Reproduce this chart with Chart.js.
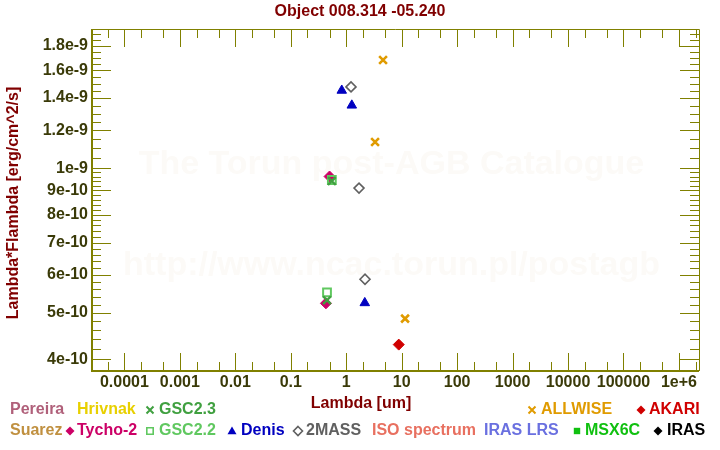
<!DOCTYPE html>
<html><head><meta charset="utf-8">
<script src="https://cdn.jsdelivr.net/npm/chart.js@4.4.1/dist/chart.umd.min.js"></script>
<style>html,body{margin:0;padding:0;background:#fff;}#wrap{width:720px;height:450px;position:relative;}</style>
</head><body><div id="wrap"><canvas id="c" width="720" height="450"></canvas></div>
<script>
// ---- text ----
const chartTitle = 'Object 008.314 -05.240';
const xTitle = 'Lambda [um]';
const yTitle = 'Lambda*Flambda [erg/cm^2/s]';
const watermarkLines = ['The Torun post-AGB Catalogue', 'http://www.ncac.torun.pl/postagb'];

// ---- axes ----
const xRange = [2.6e-5, 2.3e6];
const yRange = [3.78e-10, 1.95e-9];
const xTickValues = [1e-4, 1e-3, 1e-2, 1e-1, 1, 10, 100, 1000, 1e4, 1e5, 1e6];
const xTickLabels = ['0.0001', '0.001', '0.01', '0.1', '1', '10', '100', '1000', '10000', '100000', '1e+6'];
const xMinorMultipliers = [2, 5];
const yTickValues = [4e-10, 5e-10, 6e-10, 7e-10, 8e-10, 9e-10, 1e-9, 1.2e-9, 1.4e-9, 1.6e-9, 1.8e-9];
const yTickLabels = ['4e-10', '5e-10', '6e-10', '7e-10', '8e-10', '9e-10', '1e-9', '1.2e-9', '1.4e-9', '1.6e-9', '1.8e-9'];

// ---- data (wavelength um, lambda*F_lambda) ----
const tychoX = [0.50, 0.43];
const tychoY = [9.61e-10, 5.23e-10];
const gsc23X = [0.55, 0.45];
const gsc23Y = [9.40e-10, 5.31e-10];
const gsc22X = [0.55, 0.45];
const gsc22Y = [9.45e-10, 5.51e-10];
const denisX = [0.83, 1.26, 2.16];
const denisY = [1.452e-9, 1.352e-9, 5.24e-10];
const twomassX = [1.22, 1.70, 2.18];
const twomassY = [1.477e-9, 9.09e-10, 5.87e-10];
const allwiseX = [3.31, 4.61, 11.5];
const allwiseY = [1.134e-9, 1.681e-9, 4.86e-10];
const akariX = [8.85];
const akariY = [4.29e-10];

const pts = (xs, ys) => xs.map((x, i) => ({x, y: ys[i]}));

const FONT = '"Liberation Sans", Arial, Helvetica, sans-serif';
const OLIVE = '#808000';
const TICKTXT = '#3a3a08';
const DARKRED = '#800000';

function buildTicks(majors, lo, hi, minorFn) {
  const vals = [];
  majors.forEach(v => vals.push(v));
  minorFn(vals);
  return vals.filter(v => v >= lo * 0.9999 && v <= hi * 1.0001).sort((a, b) => a - b);
}
function isMajor(list, v) { return list.some(m => Math.abs(m / v - 1) < 1e-6); }

const xAll = buildTicks(xTickValues, xRange[0], xRange[1], arr => {
  for (let e = -5; e <= 6; e++) xMinorMultipliers.forEach(m => arr.push(m * Math.pow(10, e)));
});
const yAll = buildTicks(yTickValues, yRange[0], yRange[1], arr => {
  for (let k = 38; k < 100; k += 2) { const v = k * 1e-11; if (!isMajor(yTickValues, v)) arr.push(v); }
  for (let k = 100; k <= 195; k += 5) { const v = k * 1e-11; if (!isMajor(yTickValues, v)) arr.push(v); }
});

function drawMarker(ctx, style, x, y, r, color, filled, lw) {
  ctx.save();
  ctx.strokeStyle = color; ctx.fillStyle = color; ctx.lineWidth = lw;
  ctx.beginPath();
  if (style === 'cross') {
    ctx.moveTo(x - r, y - r); ctx.lineTo(x + r, y + r);
    ctx.moveTo(x + r, y - r); ctx.lineTo(x - r, y + r);
    ctx.stroke();
  } else {
    if (style === 'diamond') { ctx.moveTo(x, y - r); ctx.lineTo(x + r, y); ctx.lineTo(x, y + r); ctx.lineTo(x - r, y); ctx.closePath(); }
    else if (style === 'square') { ctx.rect(x - r, y - r, 2 * r, 2 * r); }
    else if (style === 'triangle') { ctx.moveTo(x, y - r); ctx.lineTo(x + r, y + r * 0.7); ctx.lineTo(x - r, y + r * 0.7); ctx.closePath(); }
    else if (style === 'circle') { ctx.arc(x, y, r, 0, Math.PI * 2); }
    if (filled) ctx.fill(); else ctx.stroke();
  }
  ctx.restore();
}

// legend layout (text + colours + marker)
const legendItems = [
  {t: 'Pereira', c: '#b0607a', x: 10, row: 0},
  {t: 'Hrivnak', c: '#e8d000', x: 77, row: 0},
  {t: 'GSC2.3', c: '#40a040', x: 159, row: 0, m: 'cross', mf: false, mx: 150},
  {t: 'ALLWISE', c: '#e09b00', x: 541, row: 0, m: 'cross', mf: false, mx: 532},
  {t: 'AKARI', c: '#d00000', x: 649, row: 0, m: 'diamond', mf: true, mx: 641},
  {t: 'Suarez', c: '#c09040', x: 10, row: 1},
  {t: 'Tycho-2', c: '#cc0066', x: 77, row: 1, m: 'diamond', mf: true, mx: 70},
  {t: 'GSC2.2', c: '#60c860', x: 159, row: 1, m: 'square', mf: false, mx: 150},
  {t: 'Denis', c: '#0000c0', x: 241, row: 1, m: 'triangle', mf: true, mx: 232},
  {t: '2MASS', c: '#606060', x: 306, row: 1, m: 'diamond', mf: false, mx: 298},
  {t: 'ISO spectrum', c: '#e87060', x: 372, row: 1},
  {t: 'IRAS LRS', c: '#6a70e0', x: 484, row: 1},
  {t: 'MSX6C', c: '#10c010', x: 585, row: 1, m: 'square', mf: true, mx: 577},
  {t: 'IRAS', c: '#000000', x: 667, row: 1, m: 'diamond', mf: true, mx: 658}
];

const decor = {
  id: 'decor',
  beforeDatasetsDraw(chart) {
    const {ctx, chartArea: a, scales: {x, y}} = chart;
    ctx.save();
    // watermark
    ctx.fillStyle = '#fcfaf7';
    ctx.font = 'bold 34px ' + FONT;
    ctx.textAlign = 'center'; ctx.textBaseline = 'middle';
    const cx = (a.left + a.right) / 2 - 4;
    ctx.fillText(watermarkLines[0], cx, 165);
    ctx.fillText(watermarkLines[1], cx, 266);
    // frame
    ctx.strokeStyle = OLIVE;
    ctx.lineWidth = 2;
    ctx.beginPath();
    ctx.moveTo(a.left, a.top); ctx.lineTo(a.left, a.bottom); ctx.lineTo(a.right, a.bottom);
    ctx.stroke();
    ctx.lineWidth = 1;
    ctx.beginPath();
    ctx.moveTo(a.left, a.top + 0.5); ctx.lineTo(a.right + 0.5, a.top + 0.5); ctx.lineTo(a.right + 0.5, a.bottom);
    ctx.stroke();
    // ticks
    ctx.beginPath();
    x.ticks.forEach(t => {
      const px = Math.round(x.getPixelForValue(t.value)) + 0.5;
      if (px <= a.left + 1 || px >= a.right - 1) return;
      const len = isMajor(xTickValues, t.value) ? 18 : 9;
      ctx.moveTo(px, a.bottom); ctx.lineTo(px, a.bottom - len);
      ctx.moveTo(px, a.top); ctx.lineTo(px, a.top + len);
    });
    y.ticks.forEach(t => {
      const py = Math.round(y.getPixelForValue(t.value)) + 0.5;
      if (py <= a.top + 1 || py >= a.bottom - 1) return;
      const len = isMajor(yTickValues, t.value) ? 19 : 9;
      ctx.moveTo(a.left, py); ctx.lineTo(a.left + len, py);
      ctx.moveTo(a.right, py); ctx.lineTo(a.right - len, py);
    });
    ctx.stroke();
    ctx.restore();
  },
  afterDraw(chart) {
    const {ctx} = chart;
    ctx.save();
    ctx.font = 'bold 16px ' + FONT;
    ctx.textBaseline = 'middle';
    ctx.textAlign = 'center';
    ctx.fillStyle = DARKRED;
    ctx.fillText(chartTitle, 360, 12);
    ctx.fillText(xTitle, 361, 404);
    ctx.save();
    ctx.translate(14, 203);
    ctx.rotate(-Math.PI / 2);
    ctx.fillText(yTitle, 0, 0);
    ctx.restore();
    ctx.textAlign = 'left';
    legendItems.forEach(it => {
      const yy = it.row === 0 ? 410 : 431;
      ctx.fillStyle = it.c;
      ctx.fillText(it.t, it.x, yy);
      if (it.m) {
        const r = it.m === 'cross' ? 3.5 : (it.m === 'diamond' ? 4.5 : (it.m === 'triangle' ? 4.5 : 3.2));
        drawMarker(ctx, it.m, it.mx, yy, r, it.c, it.mf, it.m === 'cross' ? 2 : 1.6);
      }
    });
    ctx.restore();
  }
};

new Chart(document.getElementById('c'), {
  type: 'scatter',
  data: {
    datasets: [
      {label: 'AKARI', data: pts(akariX, akariY), pointStyle: 'rectRot', pointRadius: 5.5, pointBackgroundColor: '#d00000', pointBorderColor: '#d00000', pointBorderWidth: 1},
      {label: 'ALLWISE', data: pts(allwiseX, allwiseY), pointStyle: 'crossRot', pointRadius: 5.5, pointBorderColor: '#e09b00', pointBorderWidth: 2.6},
      {label: '2MASS', data: pts(twomassX, twomassY), pointStyle: 'rectRot', pointRadius: 5, pointBackgroundColor: 'rgba(0,0,0,0)', pointBorderColor: '#606060', pointBorderWidth: 1.6},
      {label: 'Denis', data: pts(denisX, denisY), pointStyle: 'triangle', pointRadius: 5.5, pointBackgroundColor: '#0000c0', pointBorderColor: '#0000c0', pointBorderWidth: 1},
      {label: 'GSC2.3', data: pts(gsc23X, gsc23Y), pointStyle: 'crossRot', pointRadius: 5.5, pointBorderColor: '#40a040', pointBorderWidth: 2.4},
      {label: 'GSC2.2', data: pts(gsc22X, gsc22Y), pointStyle: 'rect', pointRadius: 5.5, pointBackgroundColor: 'rgba(0,0,0,0)', pointBorderColor: '#60c860', pointBorderWidth: 2},
      {label: 'Tycho-2', data: pts(tychoX, tychoY), pointStyle: 'rectRot', pointRadius: 5.5, pointBackgroundColor: '#cc0066', pointBorderColor: '#cc0066', pointBorderWidth: 1}
    ]
  },
  options: {
    responsive: false, animation: false,
    layout: {padding: {top: 29, right: 21, left: 0, bottom: 0}},
    plugins: {legend: {display: false}, tooltip: {enabled: false}, title: {display: false}},
    scales: {
      x: {
        type: 'logarithmic', position: 'bottom', min: xRange[0], max: xRange[1],
        afterBuildTicks: s => { s.ticks = xAll.map(v => ({value: v})); },
        afterFit: s => { s.height = 79; },
        grid: {display: false, drawTicks: false}, border: {display: false},
        ticks: {
          autoSkip: false, maxRotation: 0, minRotation: 0, padding: 2, color: TICKTXT,
          font: {family: FONT, size: 16, weight: 'bold'},
          callback: v => { const i = xTickValues.findIndex(m => Math.abs(m / v - 1) < 1e-6); return i >= 0 ? xTickLabels[i] : ''; }
        }
      },
      y: {
        type: 'logarithmic', position: 'left', min: yRange[0], max: yRange[1],
        afterBuildTicks: s => { s.ticks = yAll.map(v => ({value: v})); },
        afterFit: s => { s.width = 92; },
        grid: {display: false, drawTicks: false}, border: {display: false},
        ticks: {
          autoSkip: false, padding: 4, color: TICKTXT,
          font: {family: FONT, size: 16, weight: 'bold'},
          callback: v => { const i = yTickValues.findIndex(m => Math.abs(m / v - 1) < 1e-6); return i >= 0 ? yTickLabels[i] : ''; }
        }
      }
    }
  },
  plugins: [decor]
});
</script></body></html>
